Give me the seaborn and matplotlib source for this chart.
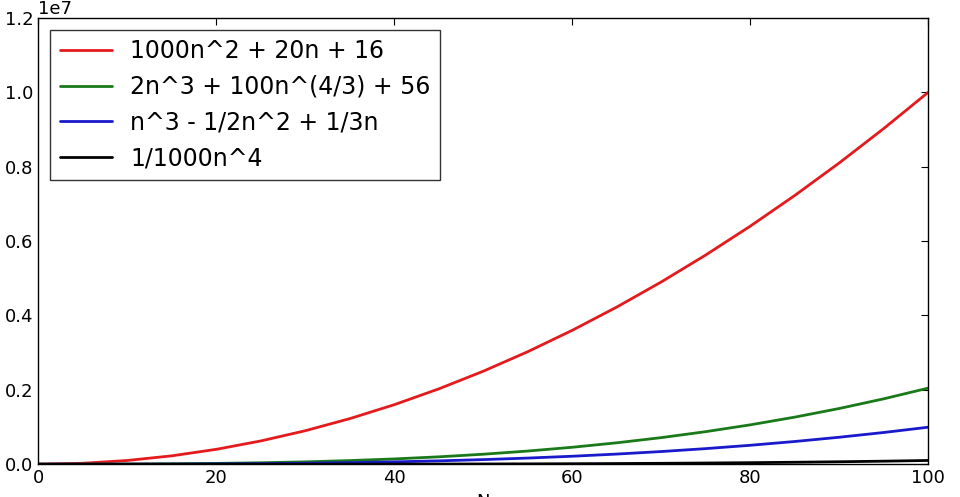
import pandas as pd
import matplotlib
matplotlib.use("Agg")
import matplotlib.pyplot as plt
import seaborn as sns

n_values = [0, 5, 10, 15, 20, 25, 30, 35, 40, 45, 50, 55, 60, 65, 70, 75, 80, 85, 90, 95, 100]

red_values = [16, 25116, 100216, 225316, 400416, 625516, 900616, 1225716, 1600816, 2025916,
              2501016, 3026116, 3601216, 4226316, 4901416, 5626516, 6401616, 7226716,
              8101816, 9026916, 10002016]
green_values = [56, 1161, 4210, 10506, 21485, 38616, 63378, 97256, 141736, 198316, 268476,
                353726, 455546, 575446, 714906, 875436, 1058526, 1265686, 1498386,
                1758156, 2046476]
blue_values = [0, 114, 953, 3268, 7807, 15321, 26560, 42274, 63213, 90128, 123767, 164881,
               214220, 272534, 340573, 419088, 508827, 610541, 724980, 852894, 995033]
black_values = [0, 0.6, 10, 51, 160, 391, 810, 1501, 2560, 4101, 6250, 9151, 12960, 17851,
                24010, 31641, 40960, 52201, 65610, 81451, 100000]

labels = ["1000n^2 + 20n + 16", "2n^3 + 100n^(4/3) + 56",
          "n^3 - 1/2n^2 + 1/3n", "1/1000n^4"]
colors = ["#e41a1c", "#1a7a1a", "#1a1acc", "#000000"]

frames = []
for label, vals in zip(labels, [red_values, green_values, blue_values, black_values]):
    frames.append(pd.DataFrame({"N": n_values, "value": vals, "series": label}))
df = pd.concat(frames, ignore_index=True)

sns.set_style("white")
plt.rcParams["font.family"] = ["DejaVu Sans"]
plt.rcParams["text.color"] = "black"
plt.rcParams["xtick.color"] = "black"
plt.rcParams["ytick.color"] = "black"
plt.rcParams["axes.labelcolor"] = "black"

fig = plt.figure(figsize=(9.6, 4.97), dpi=100)
ax = fig.add_axes([0.040, 0.066, 0.927, 0.898])
sns.lineplot(data=df, x="N", y="value", hue="series", palette=colors,
             linewidth=2, ax=ax)

ax.set_xlim(0, 100)
ax.set_ylim(0, 1.2e7)
ax.set_xlabel("N", fontsize=13)
ax.set_ylabel("")
ax.tick_params(direction="in", top=True, right=True, labelsize=13, length=5)
ax.ticklabel_format(axis="y", style="sci", scilimits=(0, 0))
ax.yaxis.get_offset_text().set_fontsize(13)
for s in ax.spines.values():
    s.set_color("black")
    s.set_linewidth(1)

leg = ax.legend(loc="upper left", fontsize=17, frameon=True, fancybox=False,
                borderaxespad=0.5, handlelength=2.2)
leg.get_frame().set_edgecolor("black")
for t in leg.get_texts():
    t.set_color("black")

fig.savefig("out.png", dpi=100)
